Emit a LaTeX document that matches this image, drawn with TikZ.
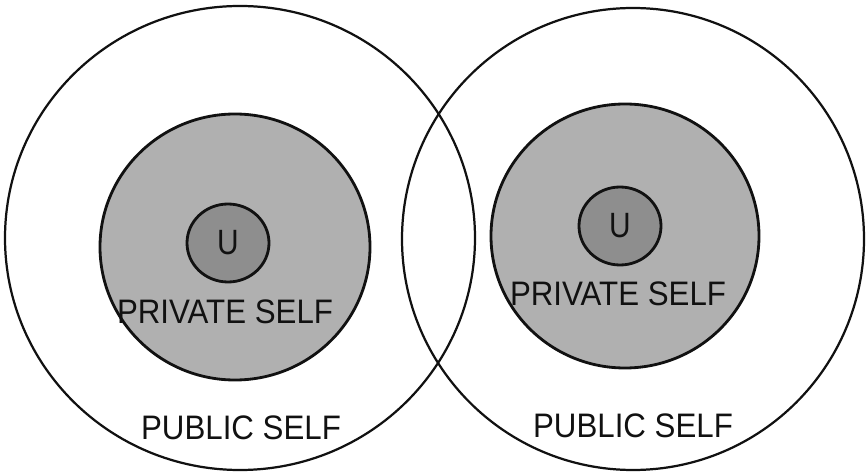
\documentclass[tikz,border=0pt]{standalone}
\usepackage{fontspec}
\setmainfont{Liberation Sans}
\usetikzlibrary{positioning}
\definecolor{ink}{HTML}{111111}
\definecolor{privgray}{HTML}{B0B0B0}
\definecolor{coregray}{HTML}{8E8E8E}
\tikzset{
  pubring/.style={draw=ink,line width=1.9pt},
  privdisc/.style={draw=ink,fill=privgray,line width=2.4pt},
  coredisc/.style={draw=ink,fill=coregray,line width=2.4pt},
  selflabel/.style={font=\fontsize{29}{31}\selectfont,text=ink,inner sep=0pt,xscale=0.92,transform shape},
  corelabel/.style={font=\fontsize{30}{32}\selectfont,text=ink,inner sep=0pt,xscale=0.85,transform shape}
}
\begin{document}
\begin{tikzpicture}[x=0.03cm,y=0.03cm]
  \useasboundingbox (0,0) rectangle (867,473);
  % public selves
  \draw[pubring] (240,235) ellipse [x radius=235,y radius=232];
  \draw[pubring] (633,234) ellipse [x radius=231,y radius=231];
  % private selves
  \draw[privdisc] (235,226) ellipse [x radius=135,y radius=133];
  \draw[privdisc] (625,237) ellipse [x radius=134,y radius=132];
  % cores
  \draw[coredisc] (228,230) ellipse [x radius=41,y radius=39];
  \draw[coredisc] (620,247) ellipse [x radius=41,y radius=39];

  \node[corelabel] (coreL) at (228,230) {U};
  \node[corelabel] (coreR) at (620,247) {U};
  \node[selflabel] (privL) at (225,161) {PRIVATE SELF};
  \node[selflabel] (privR) at (618,179) {PRIVATE SELF};
  \node[selflabel] (pubL) at (241,45) {PUBLIC SELF};
  \node[selflabel] (pubR) at (633,47) {PUBLIC SELF};
\end{tikzpicture}
\end{document}
